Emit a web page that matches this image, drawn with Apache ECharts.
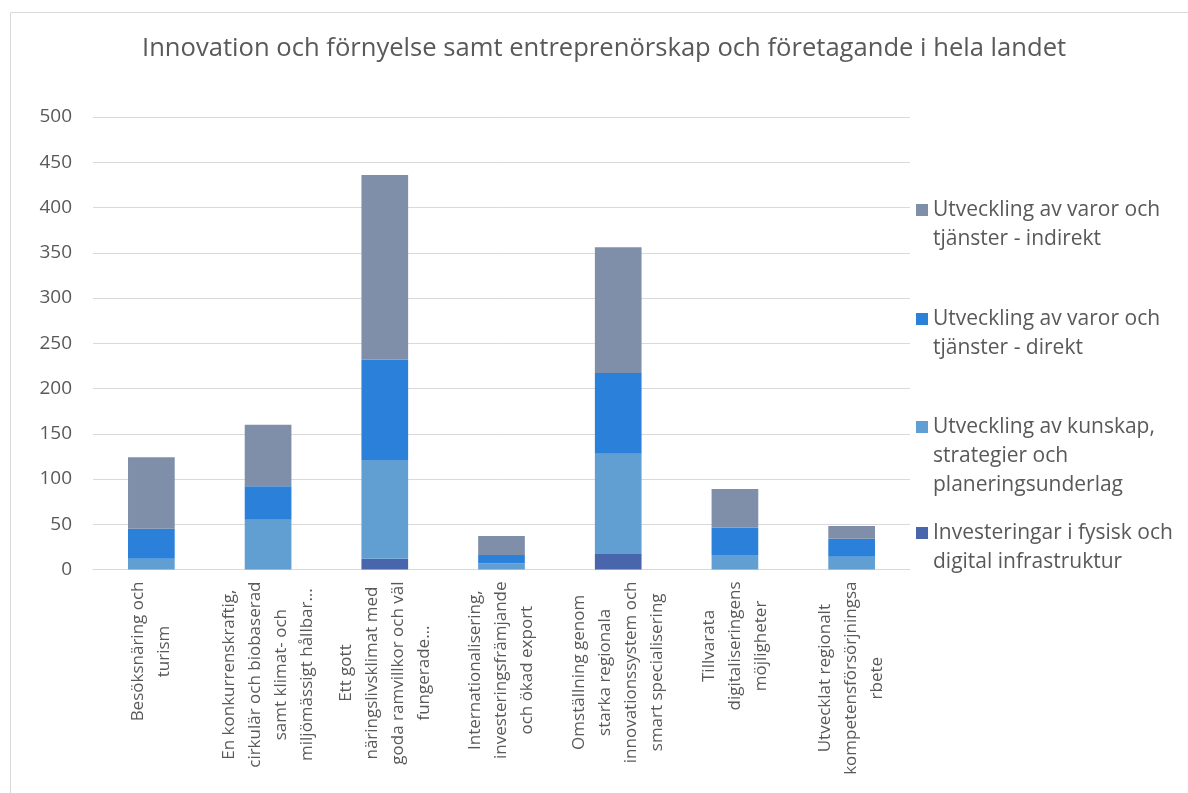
<!DOCTYPE html>
<html>
<head>
<meta charset="utf-8">
<script src="https://cdn.jsdelivr.net/npm/echarts@6/dist/echarts.min.js"></script>
<style>
html,body{margin:0;padding:0;background:#fff;}
#chart{width:1188px;height:793px;}
</style>
</head>
<body>
<div id="chart"></div>
<script>
var titleText = 'Innovation och förnyelse samt entreprenörskap och företagande i hela landet';
var categories = [
  'Besöksnäring och\nturism',
  'En konkurrenskraftig,\ncirkulär och biobaserad\nsamt klimat- och\nmiljömässigt hållbar…',
  'Ett gott\nnäringslivsklimat med\ngoda ramvillkor och väl\nfungerade…',
  'Internationalisering,\ninvesteringsfrämjande\noch ökad export',
  'Omställning genom\nstarka regionala\ninnovationssystem och\nsmart specialisering',
  'Tillvarata\ndigitaliseringens\nmöjligheter',
  'Utvecklat regionalt\nkompetensförsörjningsa\nrbete'
];
var seriesNames = [
  'Investeringar i fysisk och\ndigital infrastruktur',
  'Utveckling av kunskap,\nstrategier och\nplaneringsunderlag',
  'Utveckling av varor och\ntjänster - direkt',
  'Utveckling av varor och\ntjänster - indirekt'
];
var infra     = [0, 0, 12, 0, 17, 0, 0];
var knowledge = [12, 55, 109, 7, 111, 16, 14];
var direct    = [33, 37, 111, 9, 89, 30, 20];
var indirect  = [79, 68, 204, 21, 139, 43, 14];
var yTicks = [0, 50, 100, 150, 200, 250, 300, 350, 400, 450, 500];

var colors = ['#4966ad', '#619fd3', '#2b80d9', '#7f8fa9'];
var FONT = 'Open Sans';
var TXT = '#595959';
var values = [infra, knowledge, direct, indirect];

var series = values.map(function (v, i) {
  return {
    name: seriesNames[i],
    type: 'bar',
    stack: 'total',
    barWidth: '40%',
    itemStyle: { color: colors[i] },
    emphasis: { disabled: true },
    data: v
  };
});

// legends: one per item, top to bottom = indirect, direct, knowledge, infra
var LH = 29;
var legendOrder = [3, 2, 1, 0];
var legendFirstLine = [210, 319, 427, 533];
var legends = legendOrder.map(function (si, k) {
  var nLines = seriesNames[si].split('\n').length;
  var pad = '';
  for (var j = 1; j < nLines; j++) pad += '\n';
  return {
    data: [seriesNames[si]],
    left: 916,
    top: legendFirstLine[k] - LH / 2 - (nLines - 1) * LH,
    padding: 0,
    orient: 'vertical',
    itemWidth: 12,
    itemHeight: 12,
    itemGap: 6,
    icon: 'rect',
    selectedMode: false,
    formatter: function (name) { return pad + name; },
    textStyle: {
      fontFamily: FONT,
      fontSize: 21,
      lineHeight: LH,
      color: TXT
    }
  };
});

var chart = echarts.init(document.getElementById('chart'), null, { renderer: 'canvas' });
chart.setOption({
  backgroundColor: '#ffffff',
  animation: false,
  title: {
    text: titleText,
    left: 142,
    top: 36,
    padding: 0,
    textStyle: { fontFamily: FONT, fontSize: 25.6, fontWeight: 'normal', color: TXT }
  },
  graphic: [{
    type: 'rect',
    left: 8, top: 10,
    shape: { width: 1400, height: 1000 },
    style: { fill: 'none', stroke: '#d9d9d9', lineWidth: 1 },
    silent: true, z: -10
  }],
  legend: legends,
  grid: { left: 93, right: 278, top: 117, bottom: 223.5, containLabel: false },
  xAxis: {
    type: 'category',
    data: categories,
    axisLine: { show: true, lineStyle: { color: '#d9d9d9', width: 1 } },
    axisTick: { show: false },
    axisLabel: {
      interval: 0,
      rotate: 90,
      margin: 12,
      formatter: function (val) {
        return val.split('\n').map(function (l) { return '{c|' + l + '}'; }).join('\n');
      },
      rich: {
        c: { align: 'center', fontFamily: FONT, fontSize: 17, lineHeight: 26, color: TXT }
      }
    }
  },
  yAxis: {
    type: 'value',
    min: yTicks[0],
    max: yTicks[yTicks.length - 1],
    interval: 50,
    axisLine: { show: false },
    axisTick: { show: false },
    splitLine: { lineStyle: { color: '#d9d9d9', width: 1 } },
    axisLabel: { fontFamily: FONT, fontSize: 19, color: TXT, margin: 21 }
  },
  series: series
});
</script>
</body>
</html>
